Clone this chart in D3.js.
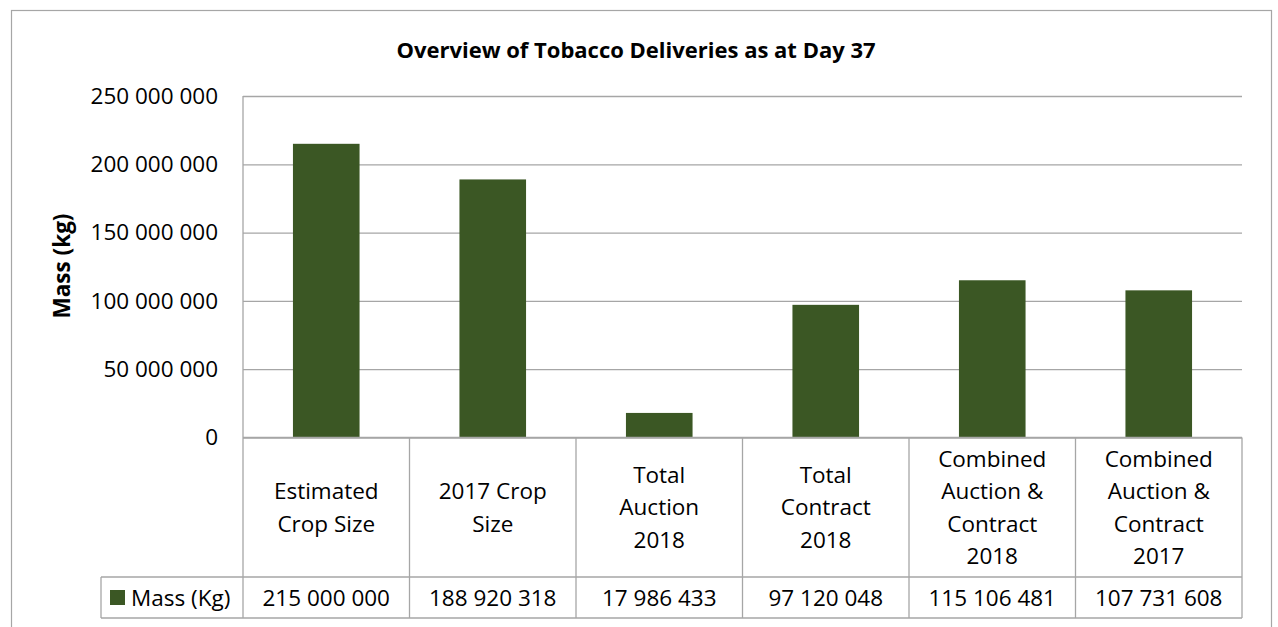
<!DOCTYPE html>
<html>
<head>
<meta charset="utf-8">
<script src="https://cdn.jsdelivr.net/npm/d3@7"></script>
<style>
  body { margin: 0; background: #fff; }
  svg text { font-family: "Open Sans", "Noto Sans", sans-serif; fill: #000; }
</style>
</head>
<body>
<div id="chart"></div>
<script>
// chart data
const title = "Overview of Tobacco Deliveries as at Day 37";
const yLabel = "Mass (kg)";
const seriesName = "Mass (Kg)";
const categories = [
    ["Estimated", "Crop Size"],
    ["2017 Crop", "Size"],
    ["Total", "Auction", "2018"],
    ["Total", "Contract", "2018"],
    ["Combined", "Auction &", "Contract", "2018"],
    ["Combined", "Auction &", "Contract", "2017"]
];
const values = [215000000, 188920318, 17986433, 97120048, 115106481, 107731608];
const yTicks = [0, 50000000, 100000000, 150000000, 200000000, 250000000];

const width = 1278, height = 627;
const barColor = "#3b5724";
const lineColor = "#a6a6a6";

const plot = {left: 243, right: 1242, top: 96, bottom: 437.5};
const catRowBottom = 577;
const tableBottom = 618;
const legendLeft = 101;

const fmt = v => d3.format(",")(v).replace(/,/g, " ");

const svg = d3.select("#chart")
    .append("svg")
    .attr("width", width)
    .attr("height", height);

// outer chart border
svg.append("rect")
    .attr("x", 11.5).attr("y", 10.5)
    .attr("width", 1260).attr("height", 640)
    .attr("fill", "none")
    .attr("stroke", lineColor)
    .attr("stroke-width", 1.2);

svg.append("text")
    .attr("x", 636)
    .attr("y", 58)
    .attr("text-anchor", "middle")
    .style("font-weight", "bold")
    .style("font-size", "22px")
    .text(title);

let y = d3.scaleLinear()
    .domain([0, 250000000])
    .range([plot.bottom, plot.top]);

let idx = d3.range(categories.length);
let xBar = d3.scaleBand()
    .domain(idx)
    .range([plot.left, plot.right])
    .paddingInner(0.6)
    .paddingOuter(0.3);
let xCell = d3.scaleBand()
    .domain(idx)
    .range([plot.left, plot.right]);

// gridlines + tick labels
let yAxis = svg.append("g")
    .attr("transform", "translate(" + plot.left + ",0)")
    .call(d3.axisLeft(y)
        .tickValues(yTicks)
        .tickSize(-(plot.right - plot.left))
        .tickPadding(25)
        .tickFormat(fmt));
yAxis.select(".domain").remove();
yAxis.selectAll(".tick line")
    .attr("stroke", lineColor)
    .attr("stroke-width", 1.3);
yAxis.selectAll(".tick text")
    .style("font-size", "22.5px")
    .style("font-family", "'Open Sans', sans-serif")
    .attr("fill", "#000");

svg.append("text")
    .attr("transform", "translate(70,266) rotate(-90)")
    .attr("text-anchor", "middle")
    .style("font-weight", "bold")
    .style("font-size", "22.5px")
    .text(yLabel);

// bars
svg.selectAll("rect.bar")
    .data(values)
    .enter()
    .append("rect")
    .attr("class", "bar")
    .attr("x", (d, i) => xBar(i))
    .attr("y", d => y(d))
    .attr("width", xBar.bandwidth())
    .attr("height", d => y(0) - y(d))
    .attr("fill", barColor);

// data table lines
let grid = svg.append("g")
    .attr("stroke", lineColor)
    .attr("stroke-width", 1.3)
    .attr("fill", "none");
grid.append("line")
    .attr("x1", plot.left).attr("x2", plot.left)
    .attr("y1", plot.top).attr("y2", tableBottom);
grid.append("line")
    .attr("x1", plot.left).attr("x2", plot.right)
    .attr("y1", plot.bottom).attr("y2", plot.bottom);
grid.append("line")
    .attr("x1", legendLeft).attr("x2", plot.right)
    .attr("y1", catRowBottom).attr("y2", catRowBottom);
grid.append("line")
    .attr("x1", legendLeft).attr("x2", plot.right)
    .attr("y1", tableBottom).attr("y2", tableBottom);
grid.append("line")
    .attr("x1", legendLeft).attr("x2", legendLeft)
    .attr("y1", catRowBottom).attr("y2", tableBottom);
grid.selectAll("line.sep")
    .data(idx)
    .enter()
    .append("line")
    .attr("class", "sep")
    .attr("x1", i => xCell(i) + xCell.bandwidth())
    .attr("x2", i => xCell(i) + xCell.bandwidth())
    .attr("y1", plot.bottom).attr("y2", tableBottom);

// category labels
const lineH = 32.5;
let catMid = (plot.bottom + catRowBottom) / 2;
let cats = svg.selectAll("text.cat")
    .data(categories)
    .enter()
    .append("text")
    .attr("class", "cat")
    .attr("text-anchor", "middle")
    .style("font-size", "22.5px");
cats.selectAll("tspan")
    .data(d => d.map((s, k) => ({s, k, n: d.length})))
    .enter()
    .append("tspan")
    .attr("x", function () {
        let i = categories.indexOf(d3.select(this.parentNode).datum());
        return xCell(i) + xCell.bandwidth() / 2;
    })
    .attr("y", d => catMid + (d.k - (d.n - 1) / 2) * lineH + 8)
    .text(d => d.s);

// value row
let rowMid = (catRowBottom + tableBottom) / 2;
svg.selectAll("text.val")
    .data(values)
    .enter()
    .append("text")
    .attr("class", "val")
    .attr("x", (d, i) => xCell(i) + xCell.bandwidth() / 2)
    .attr("y", rowMid + 8)
    .attr("text-anchor", "middle")
    .style("font-size", "22.5px")
    .text(d => fmt(d));

// legend key
svg.append("rect")
    .attr("x", 110).attr("y", rowMid - 7.5)
    .attr("width", 15).attr("height", 15)
    .attr("fill", barColor);
svg.append("text")
    .attr("x", 131)
    .attr("y", rowMid + 8)
    .style("font-size", "22.5px")
    .text(seriesName);
</script>
</body>
</html>
